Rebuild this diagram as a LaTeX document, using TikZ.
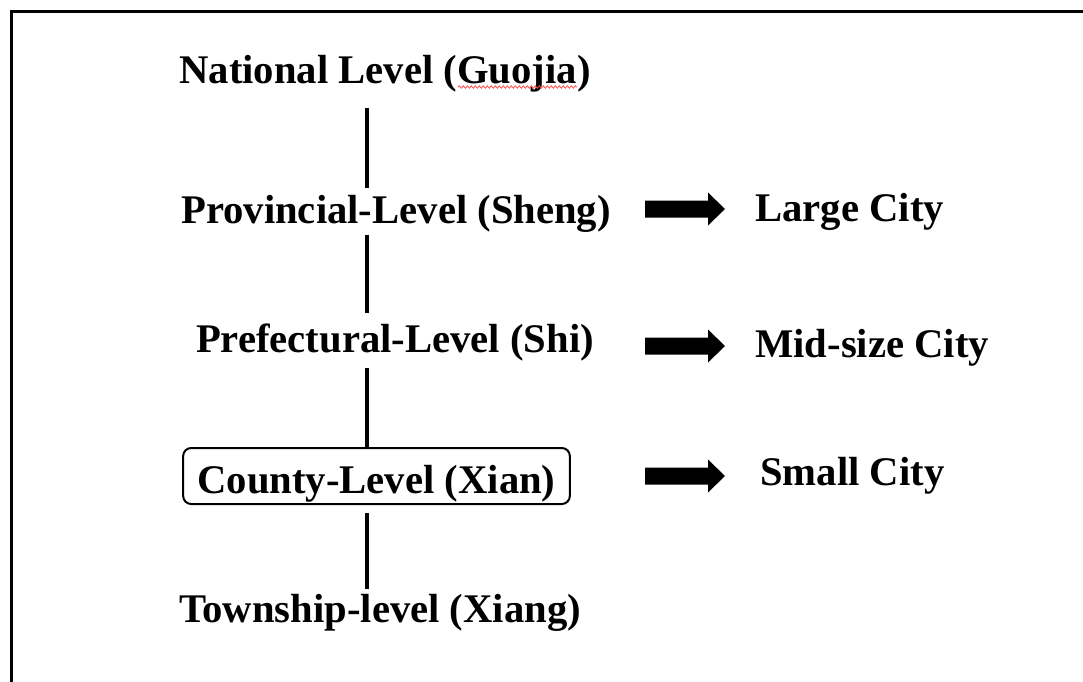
\documentclass[tikz,border=0pt]{standalone}
\usepackage{fontspec}
\setmainfont{Liberation Serif}
\usetikzlibrary{decorations.pathmorphing}
\begin{document}
\begin{tikzpicture}[x=0.75pt,y=-0.75pt,
  lvl/.style={font=\fontsize{30.5}{36}\selectfont\bfseries, inner sep=0pt,
              text height=22.5pt, text depth=7.5pt, anchor=base},
  city/.style={lvl, anchor=base west},
  vline/.style={line width=2.6pt},
  fatarrow/.style={fill=black}]
\useasboundingbox (0,0) rectangle (1083,682);
\clip (0,0) rectangle (1083,682);
\draw[line width=2.4pt] (11.5,11.5) rectangle (1100,700);

% hierarchy levels
\node[lvl] (nat)  at (385,83)  {National Level (Guojia)};
\node[lvl] (prov) at (396,223) {Provincial-Level (Sheng)};
\node[lvl] (pref) at (395,352) {Prefectural-Level (Shi)};
\node[lvl, draw, rounded corners=6pt, line width=1.5pt,
      text height=33.75pt, text depth=8.25pt, minimum width=290pt] (cty) at (376.5,493) {County-Level (Xian)};
\node[lvl] (town) at (380,622) {Township-level (Xiang)};

% spell-check underline
\draw[red!70, line width=0.6pt, decorate, decoration={snake, amplitude=0.9pt, segment length=3pt}]
  (458,87) -- (577,87);

% vertical connectors
\coordinate (vx) at (367,0);
\draw[vline, shorten <=11.25pt, shorten >=3.5pt] (nat.south -| vx) -- (prov.north -| vx);
\draw[vline, shorten <=1.5pt, shorten >=6.75pt] (prov.south -| vx) -- (pref.north -| vx);
\draw[vline, shorten <=4.5pt] (pref.south -| vx) -- (cty.north -| vx);
\draw[vline, shorten <=6pt, shorten >=2pt] (cty.south -| vx) -- (town.north -| vx);

% city labels
\node[city] (large) at (755,221) {Large City};
\node[city] (mid)   at (755,357) {Mid-size City};
\node[city] (small) at (760,485) {Small City};

% block arrows
\foreach \yc in {209,346,476}{
  \fill[fatarrow] (645,{\yc-8.5}) -- (708,{\yc-8.5}) -- (708,{\yc-16.5}) -- (725,\yc)
     -- (708,{\yc+16.5}) -- (708,{\yc+8.5}) -- (645,{\yc+8.5}) -- cycle;
}
\end{tikzpicture}
\end{document}
